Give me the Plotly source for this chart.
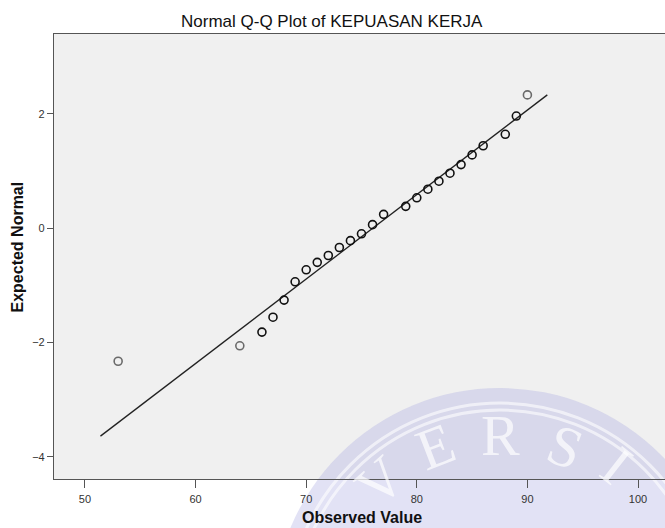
import math
import plotly.graph_objects as go

# Observed scores and their expected normal values
observed = [53, 64, 66, 67, 68, 69, 70, 71, 72, 73, 74, 75, 76, 77,
            79, 80, 81, 82, 83, 84, 85, 86, 88, 89, 90]
expected_normal = [-2.33, -2.06, -1.82, -1.56, -1.26, -0.94, -0.73, -0.60,
                   -0.48, -0.34, -0.22, -0.10, 0.06, 0.24, 0.38, 0.53, 0.68,
                   0.82, 0.96, 1.11, 1.28, 1.44, 1.64, 1.96, 2.33]

# Reference line (normal with the sample mean and SD)
line_x = [51.4, 91.8]
line_y = [-3.64, 2.33]

x_ticks = [50, 60, 70, 80, 90, 100]
y_ticks = [-4, -2, 0, 2]

W, H = 665, 528
L, R, T, B = 54, 0, 34, 49
PW, PH = W - L - R, H - T - B

def px(xp):
    return (xp - L) / PW

def py(yp):
    return (H - B - yp) / PH

single = {53, 64, 90}
edge_colors = ["#6a6a6a" if v in single else "#111111" for v in observed]

fig = go.Figure()
fig.add_trace(go.Scatter(
    x=line_x, y=line_y, mode="lines",
    line=dict(color="#222222", width=1.3), hoverinfo="skip", showlegend=False))
fig.add_trace(go.Scatter(
    x=observed, y=expected_normal, mode="markers",
    marker=dict(symbol="circle-open", size=8, color=edge_colors,
                line=dict(width=1.6, color=edge_colors)),
    showlegend=False))

# Plot-area background, then a faint circular seal in the lower right
cx, cy, rad = 500, 615, 227
shapes = [
    dict(type="rect", xref="paper", yref="paper", layer="below",
         x0=0, x1=1, y0=0, y1=1, fillcolor="#f0f0f0", line=dict(width=0)),
    dict(type="circle", xref="paper", yref="paper", layer="below",
         x0=px(cx - rad), x1=px(cx + rad), y0=py(cy + rad), y1=py(cy - rad),
         fillcolor="rgba(165,165,225,0.32)", line=dict(width=0)),
]
for rr in (212, 205):
    shapes.append(dict(type="circle", xref="paper", yref="paper", layer="below",
                       x0=px(cx - rr), x1=px(cx + rr), y0=py(cy + rr), y1=py(cy - rr),
                       line=dict(color="rgba(255,255,255,0.6)", width=3)))

annotations = [
    dict(text="Expected Normal", xref="paper", yref="paper",
         x=px(17), y=py(247.5), textangle=-90, showarrow=False,
         xanchor="center", yanchor="middle",
         font=dict(family="Liberation Sans", size=16, color="#111111", weight="bold")),
    dict(text="Observed Value", xref="paper", yref="paper",
         x=px(362), y=py(517), showarrow=False,
         xanchor="center", yanchor="middle",
         font=dict(family="Liberation Sans", size=16, color="#111111", weight="bold")),
    dict(text="Normal Q-Q Plot of KEPUASAN KERJA", xref="paper", yref="paper",
         x=px(332), y=py(21), showarrow=False,
         xanchor="center", yanchor="middle",
         font=dict(family="Liberation Sans", size=17, color="#111111")),
]
seal_letters = ["V", "E", "R", "S", "I"]
seal_angles = [-42, -21, 0, 21, 38]
seal_radii = [180, 180, 180, 180, 190]
for ch, ang, rr in zip(seal_letters, seal_angles, seal_radii):
    a = math.radians(ang)
    annotations.append(dict(
        text=ch, xref="paper", yref="paper",
        x=px(cx + rr * math.sin(a)), y=py(cy - rr * math.cos(a)),
        textangle=ang, showarrow=False, xanchor="center", yanchor="middle",
        font=dict(family="Liberation Serif", size=58, color="rgba(255,255,255,0.7)")))

fig.update_layout(
    width=W, height=H,
    margin=dict(l=L, r=R, t=T, b=B, pad=0),
    paper_bgcolor="white", plot_bgcolor="rgba(0,0,0,0)",
    shapes=shapes, annotations=annotations,
    xaxis=dict(range=[47.2, 102.44], tickvals=x_ticks, showgrid=False, zeroline=False,
               showline=True, linecolor="#555555", linewidth=1.2, mirror=True,
               ticks="outside", ticklen=8, tickcolor="#555555", tickwidth=1,
               ticklabelstandoff=2,
               tickfont=dict(family="Liberation Sans", size=11, color="#333333")),
    yaxis=dict(range=[-4.39, 3.395], tickvals=y_ticks, showgrid=False, zeroline=False,
               showline=True, linecolor="#555555", linewidth=1.2, mirror=False,
               ticks="outside", ticklen=6, tickcolor="#555555", tickwidth=1,
               tickfont=dict(family="Liberation Sans", size=11, color="#333333")),
)

fig.write_html("out.html")
